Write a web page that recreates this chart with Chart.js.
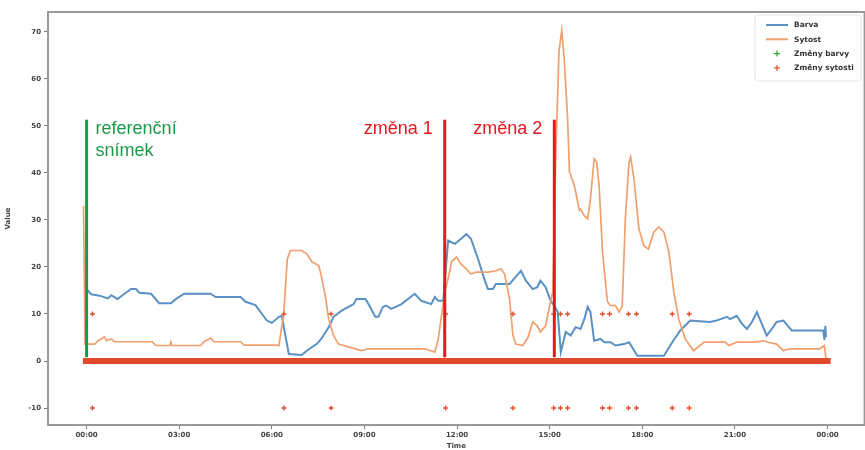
<!DOCTYPE html>
<html>
<head>
<meta charset="utf-8">
<script src="https://cdn.jsdelivr.net/npm/chart.js@4.4.1/dist/chart.umd.min.js"></script>
<style>
  html, body { margin: 0; padding: 0; background: #fff; overflow: hidden; }
  #wrap { width: 870px; height: 450px; }
</style>
</head>
<body>
<div id="wrap"><canvas id="chart" width="870" height="450"></canvas></div>
<script>
// time in hours from midnight
const barvaTimes = [0.0, 0.04, 0.15, 0.42, 0.69, 0.8, 1.0, 1.23, 1.44, 1.6, 1.71, 2.09, 2.35, 2.73, 2.9, 3.16, 4.02, 4.18, 4.99, 5.15,
  5.47, 5.84, 6.0, 6.23, 6.32, 6.55, 6.97, 7.13, 7.45, 7.6, 7.84, 8.0, 8.26, 8.65, 8.74, 9.03, 9.13, 9.35, 9.45, 9.6,
  9.7, 9.87, 10.2, 10.63, 10.84, 11.16, 11.28, 11.39, 11.55, 11.71, 11.93, 12.13, 12.3, 12.45, 12.68, 12.9, 13.0, 13.16, 13.26, 13.7,
  13.9, 14.07, 14.23, 14.45, 14.6, 14.7, 14.87, 15.03, 15.15, 15.26, 15.36, 15.52, 15.68, 15.84, 16.0, 16.12, 16.23, 16.32, 16.44, 16.65,
  16.77, 16.97, 17.13, 17.41, 17.57, 17.84, 18.7, 18.97, 19.23, 19.55, 20.19, 20.4, 20.74, 20.84, 21.06, 21.23, 21.39, 21.55, 21.71, 21.87,
  22.03, 22.19, 22.35, 22.57, 22.84, 23.86, 23.9, 23.93, 23.95];
const barvaValues = [15.3, 15.0, 14.2, 13.9, 13.3, 14.0, 13.2, 14.3, 15.3, 15.3, 14.5, 14.3, 12.3, 12.3, 13.2, 14.3, 14.3, 13.6, 13.6, 12.6,
  11.9, 8.6, 8.1, 9.4, 9.6, 1.5, 1.3, 2.2, 3.6, 4.7, 7.2, 9.4, 10.7, 12.1, 13.2, 13.2, 12.1, 9.4, 9.4, 11.5,
  11.8, 11.1, 12.1, 14.3, 12.8, 12.1, 13.6, 12.8, 12.8, 25.6, 24.9, 26.0, 27.0, 26.0, 21.7, 17.1, 15.3, 15.3, 16.4, 16.4,
  17.9, 19.2, 17.1, 15.3, 15.7, 17.1, 15.7, 12.8, 11.8, 10.4, 1.9, 6.2, 5.4, 7.2, 6.8, 8.9, 11.5, 10.4, 4.3, 4.7,
  4.0, 4.0, 3.3, 3.6, 4.0, 1.1, 1.1, 4.0, 6.5, 8.6, 8.3, 8.6, 9.4, 8.9, 9.6, 7.9, 6.8, 8.3, 10.4, 7.9,
  5.4, 6.8, 8.3, 8.6, 6.5, 6.5, 4.5, 7.5, 5.1];

const sytostTimes = [-0.1, -0.05, 0.26, 0.37, 0.58, 0.65, 0.8, 0.9, 2.13, 2.25, 2.7, 2.73, 2.76, 3.7, 3.8, 4.02, 4.12, 4.99, 5.1, 6.12,
  6.23, 6.39, 6.5, 6.6, 6.97, 7.13, 7.3, 7.52, 7.6, 7.73, 7.84, 8.0, 8.16, 8.48, 8.9, 9.13, 10.96, 11.28, 11.39, 11.48,
  11.6, 11.76, 11.82, 11.98, 12.13, 12.3, 12.45, 12.61, 13.0, 13.26, 13.42, 13.54, 13.7, 13.81, 13.9, 14.13, 14.3, 14.45, 14.6, 14.7,
  14.87, 15.0, 15.1, 15.2, 15.3, 15.39, 15.47, 15.58, 15.64, 15.8, 15.96, 16.0, 16.12, 16.23, 16.32, 16.44, 16.52, 16.6, 16.71, 16.87,
  16.97, 17.13, 17.25, 17.35, 17.45, 17.57, 17.62, 17.73, 17.89, 18.05, 18.2, 18.37, 18.53, 18.7, 18.86, 19.02, 19.18, 19.39, 19.66, 19.87,
  20.0, 20.68, 20.8, 21.06, 21.6, 21.92, 22.08, 22.35, 22.57, 22.77, 23.74, 23.9, 23.95];
const sytostValues = [33, 3.6, 3.6, 4.3, 5.1, 4.3, 4.7, 4.1, 4.1, 3.3, 3.3, 4.0, 3.3, 3.3, 4.1, 4.9, 4.1, 4.1, 3.4, 3.4,
  3.3, 10.4, 21.7, 23.5, 23.5, 22.8, 21.1, 20.3, 18.2, 13.9, 8.9, 5.4, 3.6, 3.0, 2.2, 2.6, 2.6, 1.9, 4.7, 8.9,
  14.5, 19.0, 21.1, 22.1, 20.6, 19.6, 18.5, 18.9, 18.9, 19.2, 19.6, 18.5, 13.2, 5.4, 3.6, 3.3, 5.1, 8.3, 7.5, 6.2,
  7.5, 11.8, 14.7, 44, 65.7, 70.3, 64.3, 51.5, 40.2, 37.3, 32, 32.3, 30.9, 30.2, 34.4, 43, 42.3, 37.3, 23.2, 12.6,
  11.8, 11.8, 10.4, 11.8, 30.2, 42.3, 43.4, 38.7, 28.1, 24.5, 23.8, 27.4, 28.5, 27.4, 23.2, 14.7, 8.9, 4.7, 2.2, 3.3,
  4.0, 4.0, 3.3, 4.0, 4.0, 4.3, 4.0, 3.6, 2.2, 2.6, 2.6, 3.3, 0.4];

// saturation change events, drawn at +10 and -10
const zmenySytostiTimes = [0.19, 6.39, 7.92, 11.63, 13.81, 15.13, 15.35, 15.58, 16.71, 16.94, 17.55, 17.81, 18.97, 19.52];
const zmenaHore = 10;
const zmenaDole = -10;
const zmenyBarvyTimes = [];

// no-change markers along zero
const nulaTimes = [-0.12, 24.1];

const xTicks = [0, 3, 6, 9, 12, 15, 18, 21, 24];
const xTickLabels = ['00:00', '03:00', '06:00', '09:00', '12:00', '15:00', '18:00', '21:00', '00:00'];
const yTicks = [-10, 0, 10, 20, 30, 40, 50, 60, 70];

// overlay annotations (hour, text lines)
const annotTimes = [0, 11.6, 15.15];
const annotTexts = [['referenční', 'snímek'], ['změna 1'], ['změna 2']];
const annotColors = ['#1a9a48', '#e8161e', '#e8161e'];
const annotSides = ['right', 'left', 'left'];
const annotTop = 51.3;
const annotBottom = 0.8;

const pts = (xs, ys) => xs.map((x, i) => ({ x: x, y: ys[i] }));

const annotPlugin = {
    id: 'annot',
    afterDatasetsDraw(chart) {
        const ctx = chart.ctx;
        const xs = chart.scales.x, ys = chart.scales.y;
        ctx.save();
        annotTimes.forEach((t, i) => {
            const x = xs.getPixelForValue(t);
            const y1 = ys.getPixelForValue(annotTop);
            const y2 = ys.getPixelForValue(annotBottom);
            ctx.strokeStyle = annotColors[i];
            ctx.lineWidth = 3;
            ctx.beginPath();
            ctx.moveTo(x, y1);
            ctx.lineTo(x, y2);
            ctx.stroke();
            ctx.fillStyle = annotColors[i];
            ctx.font = '18px "Liberation Sans", Arial, sans-serif';
            ctx.textBaseline = 'alphabetic';
            annotTexts[i].forEach((line, j) => {
                if (annotSides[i] === 'right') {
                    ctx.textAlign = 'left';
                    ctx.fillText(line, x + 9, y1 + 14 + j * 22);
                } else {
                    ctx.textAlign = 'right';
                    ctx.fillText(line, x - 12, y1 + 14 + j * 22);
                }
            });
        });
        ctx.restore();
    },
    afterDraw(chart) {
        const ctx = chart.ctx;
        const a = chart.chartArea;
        ctx.save();
        // frame
        ctx.strokeStyle = '#999';
        ctx.lineWidth = 2;
        ctx.strokeRect(a.left, a.top, a.right - a.left, a.bottom - a.top);
        // legend box
        const lx = 755, ly = 15, lw = 106, lh = 66;
        ctx.fillStyle = 'rgba(255,255,255,0.85)';
        ctx.strokeStyle = '#e6e6e6';
        ctx.lineWidth = 1;
        ctx.beginPath();
        ctx.roundRect(lx, ly, lw, lh, 3);
        ctx.fill();
        ctx.stroke();
        const items = chart.data.datasets.filter(d => d.label);
        ctx.font = 'bold 7.5px "DejaVu Sans", sans-serif';
        ctx.textAlign = 'left';
        ctx.textBaseline = 'middle';
        items.forEach((d, i) => {
            const y = ly + 10 + i * 14.3;
            if (d.showLine === false) {
                ctx.strokeStyle = d.pointBorderColor;
                ctx.lineWidth = 1.2;
                ctx.beginPath();
                ctx.moveTo(774, y); ctx.lineTo(780, y);
                ctx.moveTo(777, y - 3); ctx.lineTo(777, y + 3);
                ctx.stroke();
            } else {
                ctx.strokeStyle = d.borderColor;
                ctx.lineWidth = 2;
                ctx.beginPath();
                ctx.moveTo(766, y); ctx.lineTo(788, y);
                ctx.stroke();
            }
            ctx.fillStyle = '#333';
            ctx.fillText(d.label, 794, y + 0.5);
        });
        ctx.restore();
    }
};

const tickFont = { family: '"DejaVu Sans", sans-serif', size: 7, weight: 'bold' };

new Chart(document.getElementById('chart').getContext('2d'), {
    type: 'scatter',
    data: {
        datasets: [
            {
                label: 'Barva',
                data: pts(barvaTimes, barvaValues),
                showLine: true,
                borderColor: '#5a90c4',
                borderWidth: 2,
                pointRadius: 0,
                tension: 0,
                order: 5
            },
            {
                label: 'Sytost',
                data: pts(sytostTimes, sytostValues),
                showLine: true,
                borderColor: '#f0a06e',
                borderWidth: 1.7,
                pointRadius: 0,
                tension: 0,
                order: 4
            },
            {
                label: 'Změny barvy',
                data: zmenyBarvyTimes.map(t => ({ x: t, y: 0 })),
                showLine: false,
                pointStyle: 'cross',
                pointRadius: 3,
                pointBorderColor: '#2ca02c',
                pointBorderWidth: 1,
                order: 3
            },
            {
                label: 'Změny sytosti',
                data: zmenySytostiTimes.map(t => ({ x: t, y: zmenaHore }))
                    .concat(zmenySytostiTimes.map(t => ({ x: t, y: zmenaDole }))),
                showLine: false,
                pointStyle: 'cross',
                pointRadius: 2.5,
                pointBorderColor: '#e0502e',
                pointBorderWidth: 1.4,
                order: 1
            },
            {
                data: nulaTimes.map(t => ({ x: t, y: 0 })),
                showLine: true,
                borderColor: '#e0492c',
                borderWidth: 6,
                pointRadius: 0,
                order: 2
            }
        ]
    },
    options: {
        responsive: false,
        animation: false,
        layout: { padding: { top: 12, right: 3, bottom: 0, left: 0 } },
        plugins: {
            legend: { display: false },
            tooltip: { enabled: false }
        },
        scales: {
            x: {
                type: 'linear',
                min: -1.25,
                max: 25.2,
                afterBuildTicks: s => { s.ticks = xTicks.map(v => ({ value: v })); },
                afterFit: s => { s.height = 25; },
                ticks: {
                    font: tickFont,
                    color: '#444',
                    padding: 2,
                    maxRotation: 0,
                    callback: v => xTickLabels[xTicks.indexOf(v)]
                },
                grid: { drawOnChartArea: false, drawTicks: true, tickLength: 4, tickColor: '#777' },
                border: { display: false },
                title: { display: true, text: 'Time', font: tickFont, color: '#444', padding: { top: 0, bottom: 0 } }
            },
            y: {
                min: -13.6,
                max: 74.2,
                afterBuildTicks: s => { s.ticks = yTicks.map(v => ({ value: v })); },
                afterFit: s => { s.width = 48; },
                ticks: { font: tickFont, color: '#444', padding: 3 },
                grid: { drawOnChartArea: false, drawTicks: true, tickLength: 4, tickColor: '#777' },
                border: { display: false },
                title: { display: true, text: 'Value', font: tickFont, color: '#444', padding: { top: 4, bottom: 0 } }
            }
        }
    },
    plugins: [annotPlugin]
});
</script>
</body>
</html>
